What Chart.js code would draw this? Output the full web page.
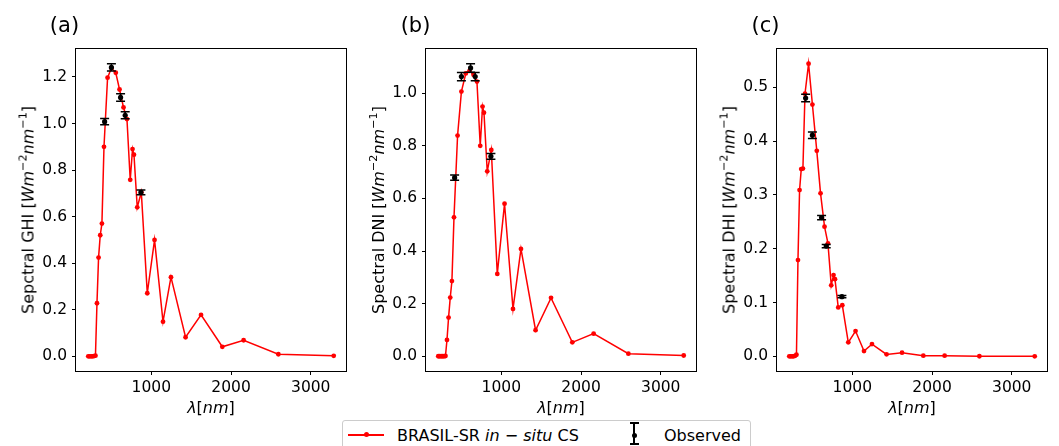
<!DOCTYPE html>
<html>
<head>
<meta charset="utf-8">
<style>
  body { margin: 0; width: 1059px; height: 446px; overflow: hidden; background: #fff; position: relative;
         font-family: "DejaVu Sans", sans-serif; color: #000; }
  canvas { position: absolute; top: 0; }
  .title { position: absolute; font-size: 21px; transform: translate(-50%, -50%); white-space: nowrap; }
  .ylab { position: absolute; font-size: 16px; white-space: nowrap; transform: translate(-50%, -50%) rotate(-90deg); }
  .xlab { position: absolute; font-size: 16px; white-space: nowrap; transform: translate(-50%, -50%); }
  sup { font-size: 0.7em; vertical-align: 0.6em; line-height: 0; }
  #legend { position: absolute; left: 342px; top: 420px; width: 407px; height: 40px;
            border: 1px solid #cccccc; border-radius: 3px; font-size: 16px; }
  #legend .txt { position: absolute; top: 14px; transform: translateY(-50%); white-space: nowrap; }
  .lg-line { position: absolute; left: 5px; top: 13px; width: 36px; height: 1.5px; background: red; }
  .lg-dot { position: absolute; left: 15.5px; top: -1.75px; width: 5px; height: 5px; border-radius: 50%; background: red; }
  .lg-bar { position: absolute; left: 290px; top: 1px; width: 1.5px; height: 22px; background: #000; }
  .lg-cap { position: absolute; left: 286.5px; width: 9px; height: 1.5px; background: #000; }
  .lg-odot { position: absolute; left: 288.5px; top: 11.5px; width: 5px; height: 5px; border-radius: 50%; background: #000; }
</style>
</head>
<body>
<canvas id="ghi" width="320" height="400"></canvas>
<canvas id="dni" width="320" height="400"></canvas>
<canvas id="dhi" width="320" height="400"></canvas>

<div class="title" style="left:64.5px; top:25px">(a)</div>
<div class="title" style="left:415.5px; top:25px">(b)</div>
<div class="title" style="left:765.5px; top:25px">(c)</div>

<div class="ylab" style="left:28px; top:210px">Sepctral GHI [<i>Wm</i><sup>−2</sup><i>nm</i><sup>−1</sup>]</div>
<div class="ylab" style="left:378px; top:210px">Spectral DNI [<i>Wm</i><sup>−2</sup><i>nm</i><sup>−1</sup>]</div>
<div class="ylab" style="left:729px; top:210px">Spectral DHI [<i>Wm</i><sup>−2</sup><i>nm</i><sup>−1</sup>]</div>

<div class="xlab" style="left:211px; top:407px"><i>λ</i>[<i>nm</i>]</div>
<div class="xlab" style="left:561px; top:407px"><i>λ</i>[<i>nm</i>]</div>
<div class="xlab" style="left:912px; top:407px"><i>λ</i>[<i>nm</i>]</div>

<div id="legend">
  <div class="lg-line"><div class="lg-dot"></div></div>
  <div class="txt" style="left:54px">BRASIL-SR <i>in</i> − <i>situ</i> CS</div>
  <div class="lg-bar"></div>
  <div class="lg-cap" style="top:1px"></div>
  <div class="lg-cap" style="top:22px"></div>
  <div class="lg-odot"></div>
  <div class="txt" style="left:321px">Observed</div>
</div>

<script src="https://cdn.jsdelivr.net/npm/chart.js@4.4.0/dist/chart.umd.min.js"></script>
<script>
  // model wavelengths (nm) and spectral irradiance (W m-2 nm-1)
  const lambda = [210, 228, 246, 264, 282, 300, 319, 339, 360, 381, 407, 452, 500, 555, 602, 652, 695,
    736, 765, 783, 824, 875, 950, 1041, 1147, 1247, 1430, 1624, 1891, 2158, 2594, 3288]
  const ghiModel = [0, 0, 0, 0, 0.001, 0.003, 0.228, 0.424, 0.52, 0.57, 0.90, 1.197, 1.238, 1.218, 1.146, 1.069, 1.019,
    0.758, 0.89, 0.866, 0.64, 0.705, 0.271, 0.50, 0.149, 0.34, 0.082, 0.178, 0.041, 0.069, 0.009, 0.002]
  const dniModel = [0, 0, 0, 0, 0, 0.001, 0.062, 0.147, 0.223, 0.286, 0.528, 0.839, 1.006, 1.075, 1.085, 1.07, 1.044,
    0.80, 0.949, 0.926, 0.703, 0.784, 0.313, 0.58, 0.18, 0.408, 0.099, 0.222, 0.053, 0.086, 0.010, 0.003]
  const dhiModel = [0, 0, 0, 0, 0.001, 0.003, 0.179, 0.309, 0.348, 0.349, 0.488, 0.544, 0.468, 0.382, 0.303, 0.241, 0.21,
    0.132, 0.151, 0.1435, 0.091, 0.095, 0.026, 0.047, 0.0098, 0.0228, 0.0037, 0.0068, 0.0012, 0.0012, 0.0002, 0.0001]

  // observed (MFRSR channels) with error bars
  const obsLambda = [415, 500, 615, 673, 870]
  const ghiObs = [1.008, 1.241, 1.112, 1.035, 0.704]
  const ghiErr = [0.013, 0.016, 0.016, 0.015, 0.010]
  const dniObs = [0.679, 1.063, 1.096, 1.063, 0.760]
  const dniErr = [0.010, 0.016, 0.016, 0.016, 0.011]
  const dhiObs = [0.480, 0.411, 0.258, 0.205, 0.111]
  const dhiErr = [0.007, 0.006, 0.004, 0.003, 0.002]

  const xTicks = [1000, 2000, 3000]
  const ghiTicks = [0, 0.2, 0.4, 0.6, 0.8, 1.0, 1.2]
  const dniTicks = [0, 0.2, 0.4, 0.6, 0.8, 1.0]
  const dhiTicks = [0, 0.1, 0.2, 0.3, 0.4, 0.5]

  const FONT = { family: "'DejaVu Sans', sans-serif", size: 15.5 }

  const errorBars = {
    id: 'errorBars',
    afterDatasetsDraw(chart) {
      const ds = chart.data.datasets[0]
      const ctx = chart.ctx
      const xs = chart.scales.x, ys = chart.scales.y
      ctx.save()
      ctx.strokeStyle = '#000'
      ctx.lineWidth = 1.5
      ds.data.forEach((p, i) => {
        const px = xs.getPixelForValue(p.x)
        const top = ys.getPixelForValue(p.y + ds.errors[i])
        const bot = ys.getPixelForValue(p.y - ds.errors[i])
        ctx.beginPath()
        ctx.moveTo(px, top); ctx.lineTo(px, bot)
        ctx.moveTo(px - 4.5, top); ctx.lineTo(px + 4.5, top)
        ctx.moveTo(px - 4.5, bot); ctx.lineTo(px + 4.5, bot)
        ctx.stroke()
      })
      ctx.restore()
    }
  }

  const frame = {
    id: 'frame',
    afterDraw(chart) {
      const a = chart.chartArea
      const ctx = chart.ctx
      ctx.save()
      ctx.strokeStyle = '#000'
      ctx.lineWidth = 1
      ctx.strokeRect(Math.round(a.left) - 0.5, Math.round(a.top) - 0.5,
        Math.round(a.right - a.left) + 1, Math.round(a.bottom - a.top) + 1)
      ctx.restore()
    }
  }

  function makePanel(id, left, model, obs, err, yMin, yMax, yTicks) {
    const canvas = document.getElementById(id)
    canvas.style.left = left + 'px'
    const ctx = canvas.getContext('2d')
    return new Chart(ctx, {
      type: 'line',
      data: {
        datasets: [{
          data: obsLambda.map((x, i) => ({ x: x, y: obs[i] })),
          errors: err,
          showLine: false,
          pointRadius: 2.6,
          pointHoverRadius: 2.6,
          pointBorderWidth: 0,
          backgroundColor: '#000',
          borderColor: '#000',
          order: 0
        }, {
          data: lambda.map((x, i) => ({ x: x, y: model[i] })),
          borderColor: '#ff0000',
          backgroundColor: '#ff0000',
          borderWidth: 1.5,
          pointRadius: 2.4,
          pointHoverRadius: 2.4,
          pointBorderWidth: 0,
          tension: 0,
          order: 1
        }]
      },
      options: {
        responsive: false,
        animation: false,
        events: [],
        layout: { padding: { top: 49, right: 5, left: 0, bottom: 0 } },
        plugins: { legend: { display: false }, tooltip: { enabled: false } },
        scales: {
          x: {
            type: 'linear',
            min: 56, max: 3442,
            afterBuildTicks: s => { s.ticks = xTicks.map(v => ({ value: v })) },
            afterFit: s => { s.height = 29 },
            border: { display: false },
            grid: { drawOnChartArea: false, drawTicks: true, tickLength: 4, tickColor: '#000', color: '#000' },
            ticks: { color: '#000', font: FONT, padding: 4, maxRotation: 0, callback: v => String(v) }
          },
          y: {
            type: 'linear',
            min: yMin, max: yMax,
            afterBuildTicks: s => { s.ticks = yTicks.map(v => ({ value: v })) },
            afterFit: s => { s.width = 45 },
            border: { display: false },
            grid: { drawOnChartArea: false, drawTicks: true, tickLength: 4, tickColor: '#000', color: '#000' },
            ticks: { color: '#000', font: FONT, padding: 5, callback: v => v.toFixed(1) }
          }
        }
      },
      plugins: [errorBars, frame]
    })
  }

  makePanel('ghi', 31, ghiModel, ghiObs, ghiErr, -0.063, 1.320, ghiTicks)
  makePanel('dni', 381, dniModel, dniObs, dniErr, -0.056, 1.168, dniTicks)
  makePanel('dhi', 732, dhiModel, dhiObs, dhiErr, -0.0272, 0.5712, dhiTicks)
</script>
</body>
</html>
